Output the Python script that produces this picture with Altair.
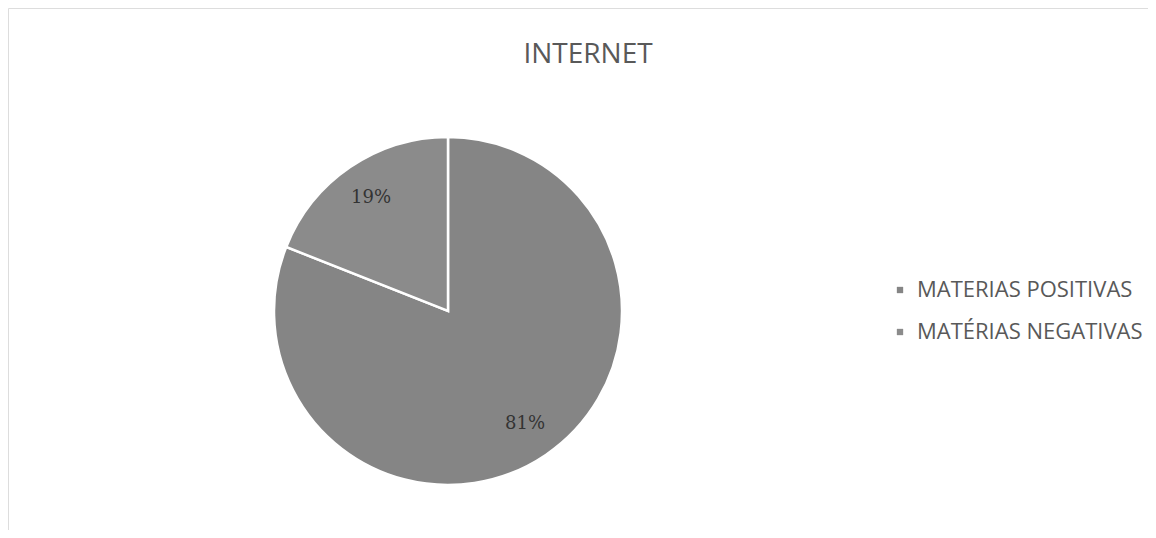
import altair as alt
import pandas as pd

categories = ["MATERIAS POSITIVAS", "MATÉRIAS NEGATIVAS"]
values = [81, 19]
labels = ["81%", "19%"]
colors = ["#858585", "#8b8b8b"]
title_text = "INTERNET"

df = pd.DataFrame({
    "cat": categories,
    "val": values,
    "lab": labels,
    "idx": list(range(len(categories))),
})

W, H = 1140, 522
CX, CY = 440, 303

base = alt.Chart(df).encode(
    theta=alt.Theta("val:Q", stack=True),
    order=alt.Order("idx:Q"),
)

pie = base.mark_arc(outerRadius=174, stroke="white", strokeWidth=2.5).encode(
    x=alt.value(CX),
    y=alt.value(CY),
    color=alt.Color(
        "cat:N",
        scale=alt.Scale(domain=categories, range=colors),
        legend=alt.Legend(
            title=None,
            orient="none",
            legendX=881,
            legendY=271,
            symbolType="square",
            symbolSize=40,
            symbolStrokeWidth=0,
            labelFont="Open Sans",
            labelFontSize=22,
            labelColor="#595959",
            labelOffset=6,
            labelLimit=0,
            rowPadding=20,
            padding=0,
        ),
    ),
)

txt = base.mark_text(radius=137, font="DejaVu Serif", fontSize=18, color="#333333").encode(
    x=alt.value(CX),
    y=alt.value(CY),
    text="lab:N",
)

title = alt.Chart(pd.DataFrame({"t": [title_text]})).mark_text(
    font="Open Sans", fontSize=28, color="#595959", baseline="alphabetic"
).encode(x=alt.value(580), y=alt.value(55), text="t:N")

chart = alt.layer(pie, txt, title).properties(
    width=W, height=H, padding=0
).configure_view(strokeWidth=0, stroke="transparent").configure(background="white")

chart.save("out.html", embed_options={"renderer": "svg", "actions": False})
